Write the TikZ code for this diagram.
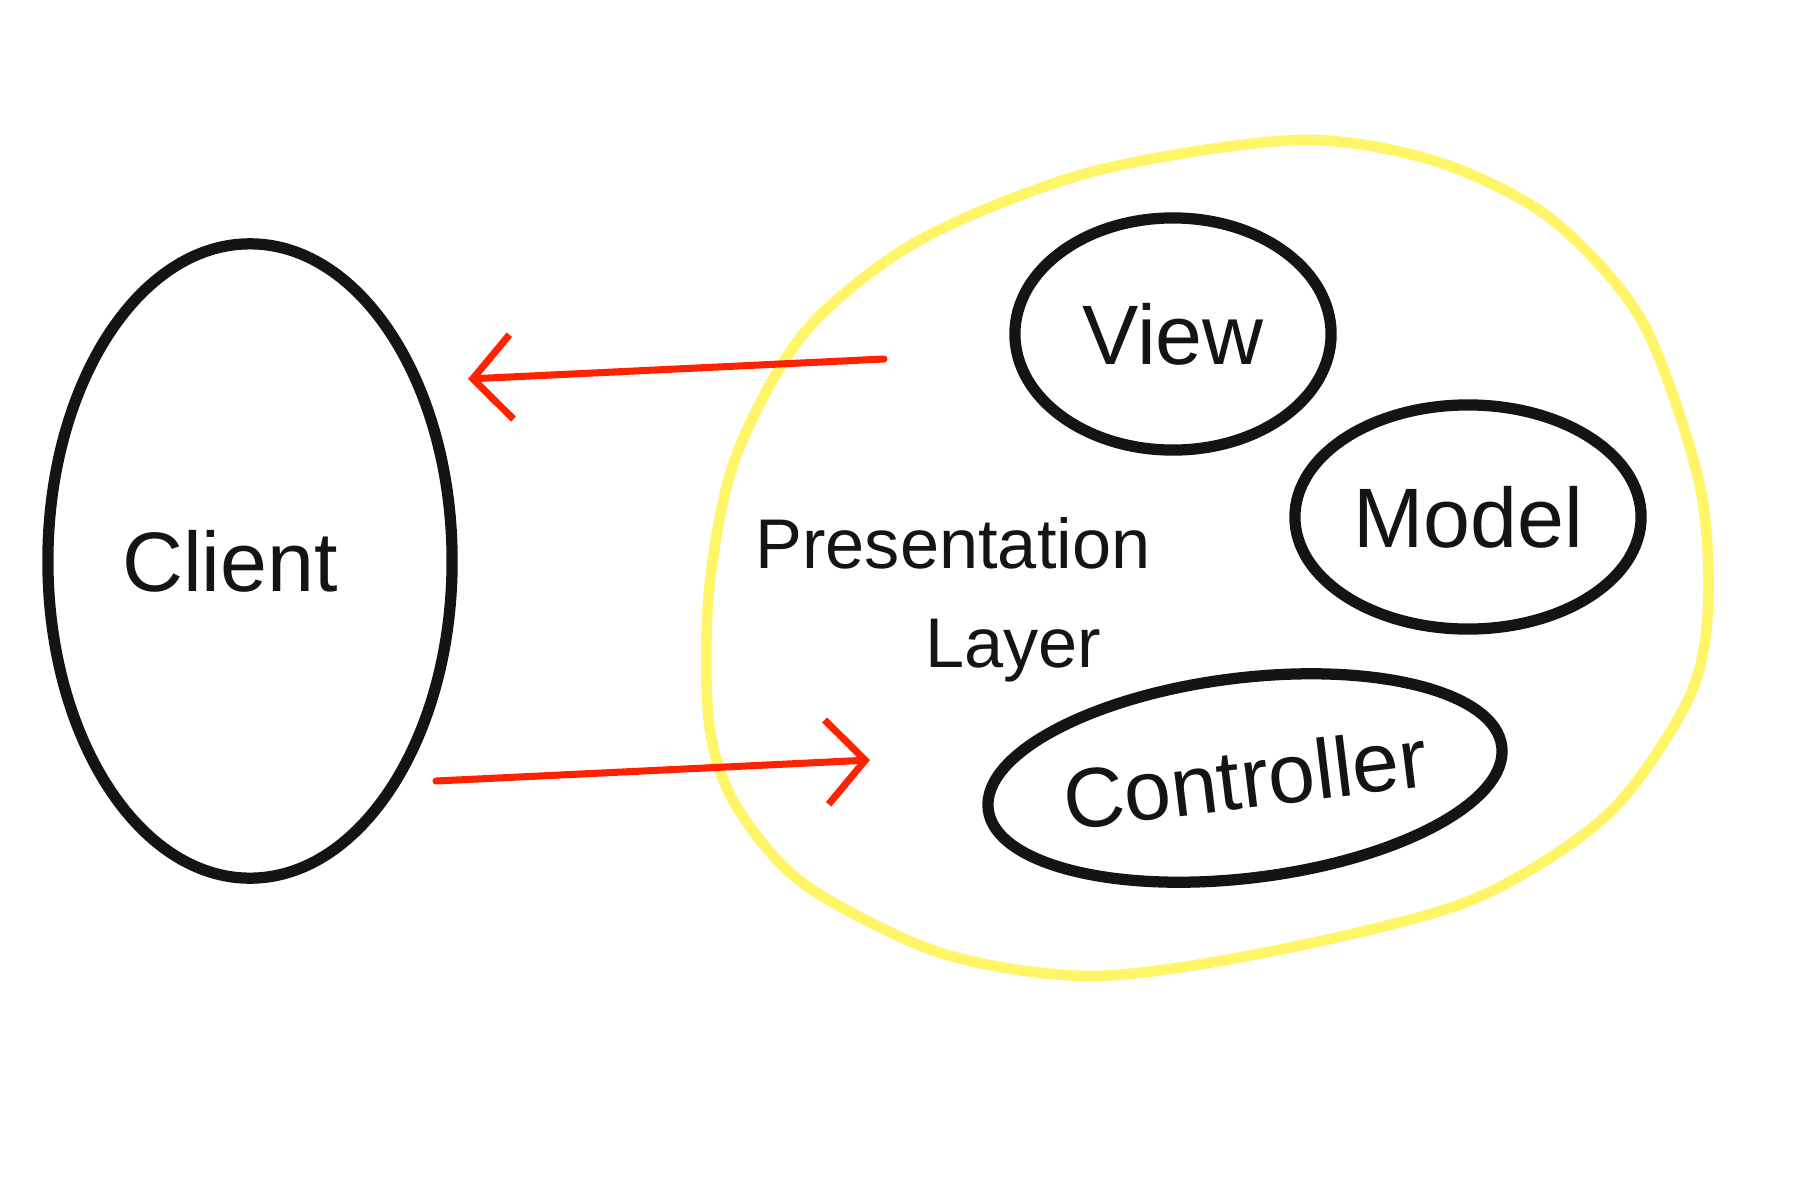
\documentclass[tikz,border=0pt]{standalone}
\usepackage{fontspec}
\setmainfont{Liberation Sans}
\usetikzlibrary{shapes.geometric,arrows.meta}
\definecolor{penblack}{HTML}{141414}
\definecolor{penyellow}{HTML}{FFF566}
\definecolor{penred}{HTML}{FF2200}
\begin{document}
\begin{tikzpicture}[
        x=0.01cm, y=-0.01cm,
        every node/.style={font=\fontsize{24}{28}\selectfont, text=penblack},
        blob/.style={ellipse, draw=penblack, line width=3.2pt, inner sep=0pt},
        flow/.style={draw=penred, line width=2pt, line cap=round, -{Straight Barb[length=11pt,width=24pt]}}
    ]
    \useasboundingbox (0,0) rectangle (1800,1200);
    \draw[penyellow, line width=3pt] plot[smooth cycle] coordinates {
        (709,591) (735,459) (804,333) (918,241) (1091,172) (1297,140)
        (1435,161) (1550,218) (1642,321) (1699,482) (1708,608) (1688,700)
        (1607,815) (1469,901) (1263,953) (1091,976) (941,953) (804,884)
        (735,804) (709,723)};
    \node[blob, minimum width=4.04cm, minimum height=6.34cm] (client) at (250,561) {\hspace*{-0.4cm}Client};
    \node[blob, minimum width=3.16cm, minimum height=2.32cm] (view) at (1173,334) {View};
    \node[blob, minimum width=3.46cm, minimum height=2.24cm] (model) at (1468,517) {Model};
    \node[blob, minimum width=4.8cm, minimum height=2.0cm, rotate=7] (controller) at (1245,778) {Controller};
    \node[align=center, font=\fontsize{20}{28}\selectfont] (layer) at (953,600) {Presentation\\\hspace*{1.2cm}Layer};
    \coordinate (out) at (884,359);
    \coordinate (back) at (468,379);
    \coordinate (send) at (436,781);
    \coordinate (in) at (870,760);
    \draw[flow] (out) -- (back);
    \draw[flow] (send) -- (in);
\end{tikzpicture}
\end{document}
